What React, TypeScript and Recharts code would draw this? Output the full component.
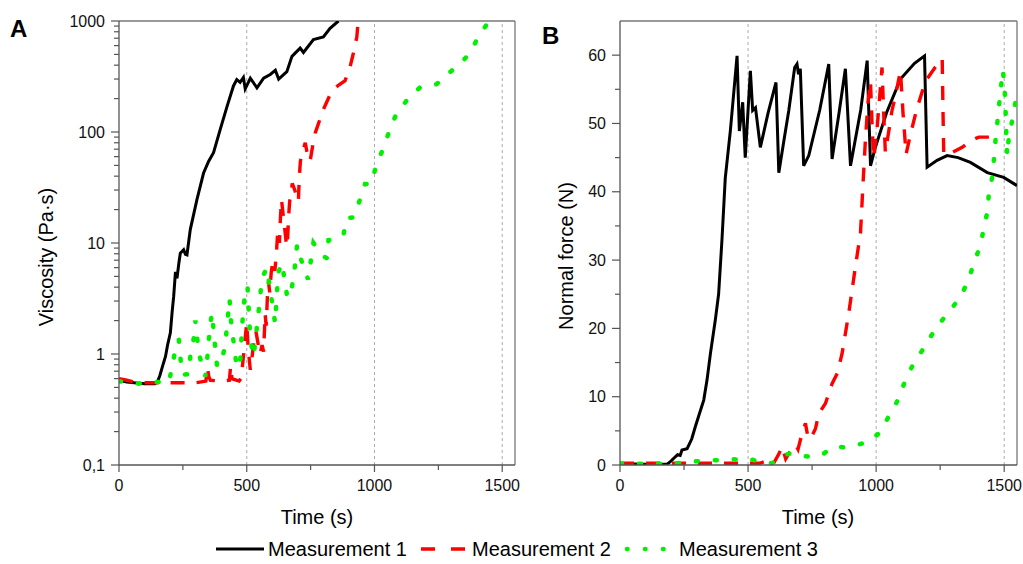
import React from 'react';
import { LineChart, Line, XAxis, YAxis, ReferenceLine } from 'recharts';

const FONT = '"Liberation Sans", Arial, Helvetica, sans-serif';
const AXIS = '#555';
const GRID = '#aaa';

// ---------- Panel A : viscosity (Pa·s) vs time (s) ----------
const viscTime1 = [0, 30, 60, 100, 140, 150, 160, 170, 182, 190, 201, 208, 214, 221, 227, 234, 240, 253, 260, 266, 279, 292, 305, 331, 351, 370, 396, 423, 448, 461, 474, 487, 494, 514, 540, 566, 592, 612, 625, 657, 677, 709, 722, 761, 800, 826, 859];
const viscValue1 = [0.58, 0.56, 0.55, 0.54, 0.54, 0.56, 0.64, 0.77, 0.95, 1.2, 1.55, 2.4, 3.3, 5.5, 4.8, 6.5, 8.1, 8.7, 7.9, 7.8, 13.2, 18, 24.6, 42.7, 54.6, 65, 105, 170, 260, 297, 280, 310, 245, 305, 250, 305, 330, 360, 300, 350, 480, 570, 520, 680, 720, 860, 1000];

const viscTime2 = [0, 30, 60, 100, 150, 200, 250, 300, 340, 346, 352, 358, 400, 432, 437, 442, 470, 478, 486, 494, 500, 506, 514, 520, 528, 536, 544, 552, 560, 566, 572, 576, 581, 585, 590, 596, 603, 610, 616, 620, 625, 628, 632, 636, 645, 651, 656, 660, 664, 668, 674, 678, 688, 696, 702, 706, 710, 720, 729, 738, 748, 758, 768, 800, 833, 860, 885, 905, 918, 931, 936];
const viscValue2 = [0.6, 0.58, 0.56, 0.55, 0.55, 0.55, 0.55, 0.55, 0.57, 0.75, 0.62, 0.58, 0.57, 0.58, 0.78, 0.6, 0.57, 0.6, 0.9, 1.4, 1.9, 1.1, 0.72, 0.9, 1.3, 1.6, 1.25, 1.0, 1.2, 1.05, 2.3, 1.8, 3.3, 4.5, 3.6, 5.5, 7.0, 5.6, 8, 11.4, 13, 10, 17, 24.6, 16, 12, 9.3, 11, 17.4, 23.7, 28, 34.5, 30, 26, 23.7, 40, 54.6, 68, 80, 62, 54.6, 75, 98, 160, 235, 265, 290, 390, 520, 720, 1000];

const viscTime3 = [0, 40, 77, 120, 150, 175, 195, 208, 221, 234, 240, 247, 273, 279, 292, 299, 312, 338, 345, 351, 357, 364, 377, 384, 403, 416, 423, 433, 436, 461, 475, 482, 488, 494, 503, 514, 527, 546, 553, 559, 579, 611, 619, 625, 638, 659, 672, 685, 697, 716, 740, 761, 794, 813, 820, 850, 878, 892, 917, 943, 963, 986, 1006, 1034, 1058, 1084, 1128, 1178, 1243, 1298, 1341, 1380, 1405, 1441, 1448];
const viscValue3 = [0.57, 0.55, 0.54, 0.55, 0.56, 0.56, 0.55, 0.77, 1.11, 1.35, 0.95, 0.65, 0.66, 0.95, 1.36, 2.0, 1.02, 0.63, 0.89, 1.3, 1.84, 2.34, 1.11, 0.77, 0.89, 1.21, 1.84, 3.13, 2.2, 0.75, 0.9, 1.8, 2.65, 3.8, 4.06, 1.35, 0.95, 2.37, 3.35, 4.8, 5.95, 1.9, 3.85, 5.55, 6.6, 3.2, 3.5, 5.2, 9.6, 6.7, 4.7, 10, 7.8, 7.3, 10.6, 11.0, 11.7, 16.8, 17, 24.5, 34, 34, 49, 71, 102, 143, 195, 252, 270, 350, 425, 535, 720, 940, 1000];

// ---------- Panel B : normal force (N) vs time (s) ----------
const forceTime1 = [0, 50, 100, 150, 183, 200, 216, 225, 235, 242, 262, 280, 294, 310, 327, 340, 353, 372, 385, 398, 411, 431, 457, 466, 479, 489, 509, 518, 529, 548, 578, 609, 620, 640, 659, 682, 691, 697, 704, 717, 737, 780, 815, 828, 855, 880, 900, 940, 965, 978, 997, 1041, 1095, 1150, 1189, 1199, 1238, 1277, 1320, 1368, 1434, 1498, 1550];
const forceValue1 = [0.2, 0.15, 0.1, 0.1, 0.1, 0.6, 1.2, 1.5, 1.4, 2.2, 2.4, 3.8, 5.6, 7.5, 9.5, 12.5, 16.3, 21.2, 25, 32.9, 42, 49, 59.9, 48.9, 53.1, 45, 57.7, 51.9, 52.3, 46.5, 51.5, 56, 42.8, 47.5, 51.9, 58.2, 58.7, 57.2, 58, 43.8, 45.3, 52, 58.7, 44.8, 51.5, 58, 43.8, 52, 59.2, 43.8, 46.5, 51.6, 56.5, 58.8, 59.9, 43.6, 44.6, 45.3, 45, 44.3, 42.8, 42.1, 40.9];

const forceTime2 = [0, 100, 200, 300, 400, 500, 545, 575, 597, 620, 633, 647, 665, 685, 695, 710, 724, 735, 750, 763, 776, 802, 828, 848, 867, 893, 919, 939, 950, 958, 968, 978, 984, 990, 1004, 1013, 1023, 1030, 1036, 1050, 1062, 1075, 1095, 1105, 1117, 1134, 1160, 1193, 1230, 1258, 1261, 1264, 1290, 1336, 1370, 1401, 1446];
const forceValue2 = [0.25, 0.25, 0.25, 0.25, 0.25, 0.25, 0.25, 0.6, 0.05, 1.6, 2.7, 0.9, 2.0, 3.0, 2.3, 4.5, 6.1, 3.8, 4.3, 5.3, 7.5, 9, 11.9, 13.4, 16.3, 22.2, 29, 34, 42, 47.5, 53, 56.2, 50, 45, 49.4, 53.5, 58.2, 51, 45.8, 49, 51.9, 54, 57.7, 51.5, 45.5, 48.4, 52.3, 56.2, 58.2, 59.5, 52, 45.5, 45.6, 46.5, 47.5, 48, 48];

const forceTime3 = [0, 50, 100, 150, 200, 240, 281, 320, 359, 390, 424, 460, 489, 515, 541, 570, 594, 620, 646, 670, 691, 720, 750, 770, 789, 815, 841, 870, 893, 920, 952, 980, 1010, 1030, 1049, 1088, 1114, 1147, 1193, 1232, 1284, 1329, 1360, 1381, 1407, 1420, 1434, 1440, 1453, 1460, 1466, 1473, 1479, 1486, 1495, 1502, 1505, 1507, 1509, 1512, 1518, 1531, 1544, 1550];
const forceValue3 = [0.2, 0.2, 0.2, 0.2, 0.2, 0.3, 0.5, 0.6, 0.7, 0.7, 0.9, 0.8, 1.0, 0.8, 0.5, 0.4, 0.25, 1.0, 1.5, 1.7, 1.7, 1.3, 1.2, 1.3, 1.5, 2.2, 2.7, 2.6, 2.7, 2.9, 3.2, 3.7, 4.6, 5.8, 7.1, 9.7, 12.4, 14.9, 17.5, 20, 22.4, 24.6, 27, 29.5, 32.1, 34.6, 37, 39.7, 42.1, 44.8, 47.5, 50, 52.3, 54.8, 57.8, 55, 52.3, 50, 47.3, 45.3, 48, 50.4, 53.1, 54];

// ---------- ticks ----------
const timeTicks = [0, 250, 500, 750, 1000, 1250, 1500];
const timeMajor = [0, 500, 1000, 1500];
const viscTicks = [0.1, 0.2, 0.3, 0.4, 0.5, 0.6, 0.7, 0.8, 0.9, 1, 2, 3, 4, 5, 6, 7, 8, 9, 10, 20, 30, 40, 50, 60, 70, 80, 90, 100, 200, 300, 400, 500, 600, 700, 800, 900, 1000];
const viscMajor = [0.1, 1, 10, 100, 1000];
const viscLabels = ['0,1', '1', '10', '100', '1000'];
const forceTicks = [0, 5, 10, 15, 20, 25, 30, 35, 40, 45, 50, 55, 60];
const forceMajor = [0, 10, 20, 30, 40, 50, 60];
const gridTimes = [500, 1000, 1500];
const seriesNames = ['Measurement 1', 'Measurement 2', 'Measurement 3'];

const zip = (ts: number[], vs: number[]) => ts.map((t, i) => ({ t, v: vs[i] }));

const viscData = [zip(viscTime1, viscValue1), zip(viscTime2, viscValue2), zip(viscTime3, viscValue3)];
const forceData = [zip(forceTime1, forceValue1), zip(forceTime2, forceValue2), zip(forceTime3, forceValue3)];

const GREEN = '#00f000';
const seriesStyle = [
  { stroke: '#000000', strokeWidth: 3 },
  { stroke: '#ff0000', strokeWidth: 3.4, strokeDasharray: '14 12' },
  { stroke: GREEN, strokeWidth: 4.5, strokeDasharray: '2 17', strokeLinecap: 'round' as const },
];

const XTick = (props: any) => {
  const { x, y, payload } = props;
  const v = payload.value;
  const major = timeMajor.includes(v);
  return (
    <g>
      <line x1={x} x2={x} y1={y} y2={y + (major ? 7 : 5)} stroke={AXIS} strokeWidth={1.2} />
      {major && (
        <text x={x} y={y + 15} dy="0.71em" textAnchor="middle" fontSize={16} fontFamily={FONT} fill="#111">
          {v}
        </text>
      )}
    </g>
  );
};

const makeYTick = (majors: number[], labels?: string[]) => (props: any) => {
  const { x, y, payload } = props;
  const v = payload.value;
  const idx = majors.findIndex((m) => Math.abs(m - v) < 1e-9);
  const major = idx >= 0;
  return (
    <g>
      <line x1={x} x2={x - (major ? 8 : 5)} y1={y} y2={y} stroke={AXIS} strokeWidth={1.2} />
      {major && (
        <text x={x - 14} y={y} dy="0.35em" textAnchor="end" fontSize={16} fontFamily={FONT} fill="#111">
          {labels ? labels[idx] : String(v)}
        </text>
      )}
    </g>
  );
};

const ViscTick = makeYTick(viscMajor, viscLabels);
const ForceTick = makeYTick(forceMajor);

const renderLines = (sets: { t: number; v: number }[][]) =>
  sets.map((d, i) => (
    <Line
      key={seriesNames[i]}
      name={seriesNames[i]}
      data={d}
      dataKey="v"
      type="linear"
      dot={false}
      activeDot={false}
      isAnimationActive={false}
      {...seriesStyle[i]}
    />
  ));

const xAxisProps = {
  dataKey: 't',
  type: 'number' as const,
  domain: [0, 1550],
  ticks: timeTicks,
  interval: 0 as const,
  tickSize: 0,
  tickMargin: 0,
  tickLine: false,
  tick: XTick,
  axisLine: { stroke: AXIS, strokeWidth: 1.3 },
  height: 30,
  allowDataOverflow: true,
};

export default function App() {
  return (
    <div style={{ position: 'absolute', left: 0, top: 0, width: 1023, height: 564, background: '#fff', fontFamily: FONT }}>
      <div style={{ position: 'absolute', left: 0, top: 0 }}>
        <LineChart width={520} height={564} margin={{ top: 21, right: 5, bottom: 69, left: 0 }}>
          <XAxis {...xAxisProps} />
          <YAxis
            type="number"
            scale="log"
            domain={[0.1, 1000]}
            ticks={viscTicks}
            interval={0}
            tickSize={0}
            tickMargin={0}
            tickLine={false}
            tick={ViscTick}
            axisLine={{ stroke: AXIS, strokeWidth: 1.3 }}
            width={119}
            allowDataOverflow
          />
          {gridTimes.map((g) => (
            <ReferenceLine key={g} x={g} stroke={GRID} strokeDasharray="3 3" strokeWidth={1} ifOverflow="visible" />
          ))}
          <ReferenceLine y={1000} stroke="#777" strokeWidth={1.3} ifOverflow="visible" />
          <ReferenceLine x={1550} stroke="#777" strokeWidth={1.3} ifOverflow="visible" />
          {renderLines(viscData)}
        </LineChart>
      </div>
      <div style={{ position: 'absolute', left: 520, top: 0 }}>
        <LineChart width={503} height={564} margin={{ top: 21, right: 6, bottom: 69, left: 0 }}>
          <XAxis {...xAxisProps} />
          <YAxis
            type="number"
            domain={[0, 65]}
            ticks={forceTicks}
            interval={0}
            tickSize={0}
            tickMargin={0}
            tickLine={false}
            tick={ForceTick}
            axisLine={{ stroke: AXIS, strokeWidth: 1.3 }}
            width={100}
            allowDataOverflow
          />
          {gridTimes.map((g) => (
            <ReferenceLine key={g} x={g} stroke={GRID} strokeDasharray="3 3" strokeWidth={1} ifOverflow="visible" />
          ))}
          <ReferenceLine y={65} stroke="#777" strokeWidth={1.3} ifOverflow="visible" />
          <ReferenceLine x={1550} stroke="#777" strokeWidth={1.3} ifOverflow="visible" />
          {renderLines(forceData)}
        </LineChart>
      </div>
      <svg width={1023} height={564} style={{ position: 'absolute', left: 0, top: 0, pointerEvents: 'none' }}>
        <g fontFamily={FONT} fill="#000">
          <text x={10} y={37} fontSize={24} fontWeight="bold">A</text>
          <text x={542} y={44} fontSize={24} fontWeight="bold">B</text>
          <text transform="translate(53,257) rotate(-90)" textAnchor="middle" fontSize={20}>Viscosity (Pa·s)</text>
          <text transform="translate(573,256) rotate(-90)" textAnchor="middle" fontSize={20}>Normal force (N)</text>
          <text x={317} y={524} textAnchor="middle" fontSize={20}>Time (s)</text>
          <text x={818} y={524} textAnchor="middle" fontSize={20}>Time (s)</text>
          {/* legend */}
          <line x1={216} x2={264} y1={549} y2={549} stroke="#000" strokeWidth={3} />
          <text x={268} y={556} fontSize={20}>{seriesNames[0]}</text>
          <line x1={421} x2={465} y1={549} y2={549} stroke="#ff0000" strokeWidth={3.4} strokeDasharray="14 16" />
          <text x={472} y={556} fontSize={20}>{seriesNames[1]}</text>
          <line x1={627} x2={665} y1={549} y2={549} stroke={GREEN} strokeWidth={4.5} strokeDasharray="0.5 17.5" strokeLinecap="round" />
          <text x={679} y={556} fontSize={20}>{seriesNames[2]}</text>
        </g>
      </svg>
    </div>
  );
}
